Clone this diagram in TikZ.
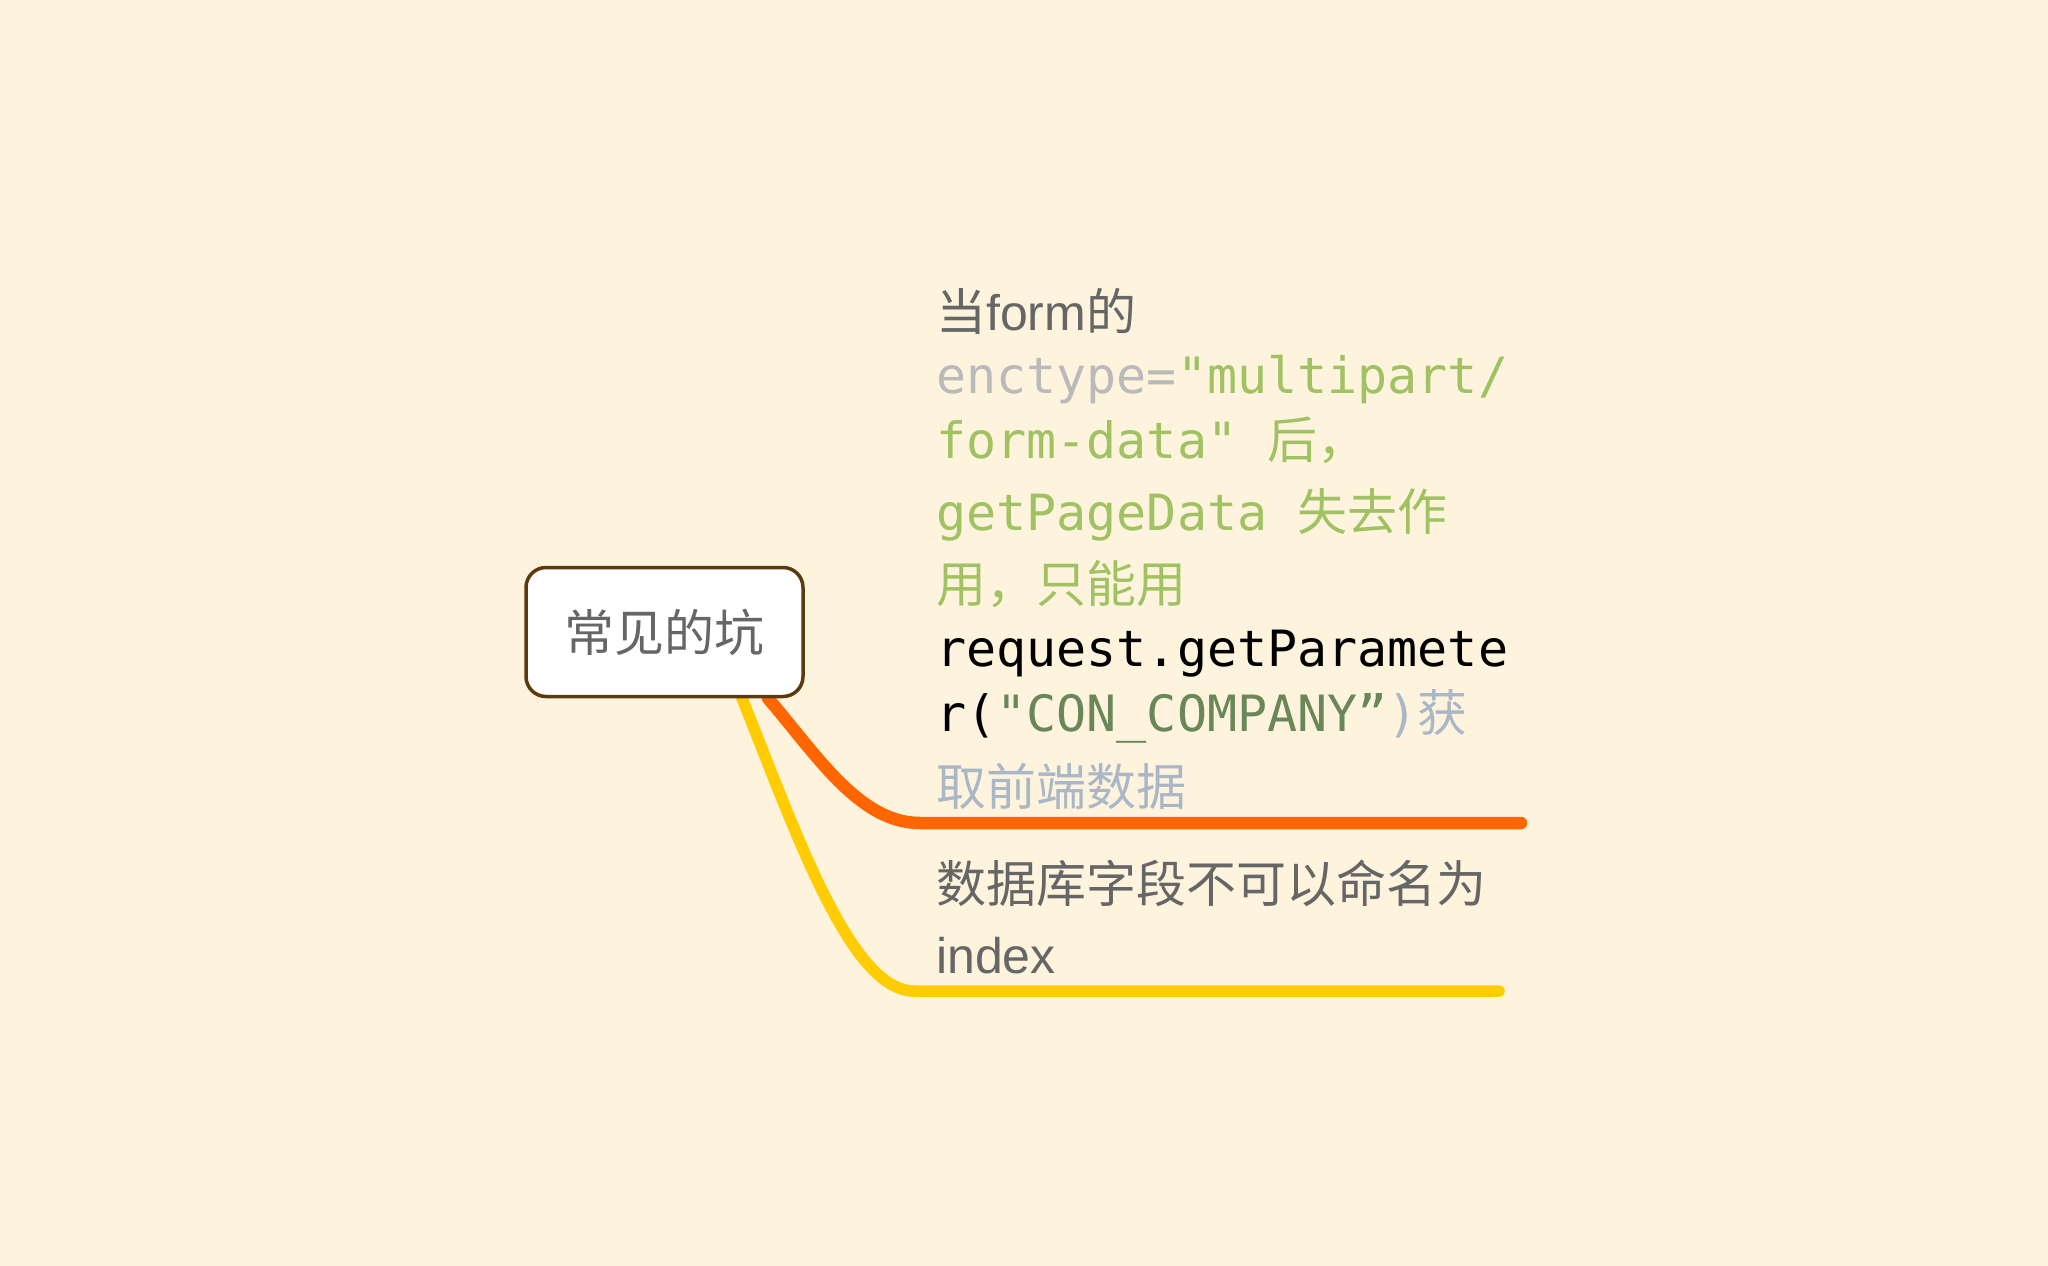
\documentclass[tikz,border=0pt]{standalone}
\usepackage{fontspec}
\setmainfont{Liberation Sans}
\newfontfamily\cjk{Noto Sans CJK SC}
\newfontfamily\monof{DejaVu Sans Mono}
\newfontfamily\latf{Liberation Sans}
\definecolor{bgc}{HTML}{FEF4DE}
\definecolor{txtgray}{HTML}{666666}
\definecolor{encgray}{HTML}{BABABA}
\definecolor{grn}{HTML}{A0C262}
\definecolor{dkgrn}{HTML}{6A8759}
\definecolor{bluegray}{HTML}{A9B7C6}
\definecolor{boxbrown}{HTML}{5C3A10}
\definecolor{orangeC}{HTML}{FF6600}
\definecolor{yellowC}{HTML}{FFCC00}
\pgfdeclarelayer{bg}
\pgfsetlayers{bg,main}
\tikzset{
  rootbox/.style={draw=boxbrown, line width=3.5pt, fill=white, rounded corners=20pt,
    minimum width=277pt, minimum height=129pt, inner sep=0pt, text=txtgray,
    font=\cjk\fontsize{50}{60}\selectfont},
  txtline/.style={anchor=base west, inner sep=0pt, font=\fontsize{50}{60}\selectfont},
  branchO/.style={draw=orangeC, line width=12.5pt, line cap=round},
  branchY/.style={draw=yellowC, line width=11.5pt, line cap=round}
}
\begin{document}
\begin{tikzpicture}[x=1pt,y=-1pt]
\useasboundingbox (0,0) rectangle (2048,1266);
\node[rootbox] (root) at (664.5,632) {常见的坑};
\coordinate (oend) at (1521,823);
\coordinate (yend) at (1499,991);
% text of first branch
\node[txtline, text=txtgray] (t1) at (936,330) {{\cjk 当}{\latf form}{\cjk 的}};
\node[txtline] (t2) at (936,393) {{\monof\color{encgray}enctype=}{\monof\color{grn}"multipart/}};
\node[txtline, text=grn] (t3) at (936,458) {{\monof form-data" }{\cjk 后，}};
\node[txtline, text=grn] (t4) at (936,530) {{\monof getPageData }{\cjk 失去作}};
\node[txtline, text=grn] (t5) at (936,602) {{\cjk 用，只能用}};
\node[txtline, text=black] (t6) at (936,666) {{\monof request.getParamete}};
\node[txtline] (t7) at (936,731) {{\monof\color{black}r(}{\monof\color{dkgrn}"CON\symbol{"5F}COMPANY”}{\monof\color{bluegray})}{\cjk\color{bluegray}获}};
\node[txtline, text=bluegray] (t8) at (936,805) {{\cjk 取前端数据}};
% text of second branch
\node[txtline, text=txtgray] (u1) at (936,902) {{\cjk 数据库字段不可以命名为}};
\node[txtline, text=txtgray] (u2) at (936,973) {{\latf index}};
\begin{pgfonlayer}{bg}
\fill[bgc] (0,0) rectangle (2048,1266);
\draw[branchY] ([xshift=77.5pt]root.south) .. controls (795,830) and (850,991) .. (914,991) -- (yend);
\draw[branchO] ([xshift=103.5pt]root.south) .. controls (818,757) and (860,823) .. (920,823) -- (oend);
\end{pgfonlayer}
\end{tikzpicture}
\end{document}
